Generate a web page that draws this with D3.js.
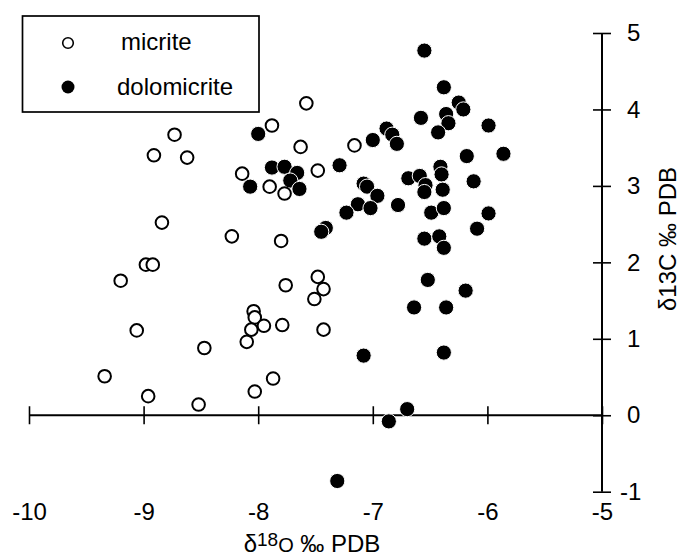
<!DOCTYPE html>
<html>
<head>
<meta charset="utf-8">
<script src="https://cdn.jsdelivr.net/npm/d3@7"></script>
<style>
    body { margin: 0; background: #fff; }
    svg { display: block; font-family: "Liberation Sans", Arial, sans-serif; }
</style>
</head>
<body>
<div id="chart"></div>
<script>
// Values (delta 18O and delta 13C, per mil PDB)
const micriteO = [-8.73, -8.91, -8.62, -7.88, -8.14, -7.90, -7.77, -8.84, -8.23, -7.80,
    -7.58, -7.63, -7.16, -7.48, -8.98, -8.92, -9.20, -9.06, -8.47, -9.34,
    -8.96, -8.52, -8.04, -8.03, -8.06, -7.95, -8.10, -7.87, -8.03, -7.79,
    -7.76, -7.48, -7.43, -7.51, -7.43];
const micriteC = [3.67, 3.40, 3.37, 3.79, 3.16, 2.99, 2.90, 2.52, 2.34, 2.28,
    4.08, 3.51, 3.53, 3.20, 1.97, 1.97, 1.76, 1.11, 0.88, 0.51,
    0.25, 0.14, 1.36, 1.28, 1.12, 1.17, 0.96, 0.48, 0.31, 1.18,
    1.70, 1.81, 1.65, 1.52, 1.12];

const dolomicriteO = [-8.00, -7.88, -8.07, -7.77, -7.66, -7.72, -7.64, -7.29, -7.08, -7.05,
    -6.96, -7.13, -7.23, -7.02, -6.78, -7.41, -7.45, -7.00, -6.88, -6.83,
    -6.79, -6.55, -6.38, -6.25, -6.21, -6.58, -6.36, -6.34, -6.43, -5.99,
    -5.86, -6.18, -6.41, -6.40, -6.69, -6.59, -6.54, -6.55, -6.39, -6.12,
    -5.99, -6.09, -6.55, -6.42, -6.38, -6.49, -6.38, -6.52, -6.19, -6.64,
    -6.36, -7.08, -6.38, -6.70, -6.86, -7.31];
const dolomicriteC = [3.68, 3.24, 2.99, 3.25, 3.17, 3.07, 2.96, 3.27, 3.03, 2.99,
    2.87, 2.76, 2.65, 2.71, 2.75, 2.45, 2.40, 3.60, 3.75, 3.67,
    3.55, 4.77, 4.29, 4.09, 4.00, 3.89, 3.94, 3.82, 3.70, 3.79,
    3.42, 3.39, 3.25, 3.15, 3.10, 3.13, 3.01, 2.92, 2.95, 3.06,
    2.64, 2.44, 2.31, 2.34, 2.19, 2.65, 2.71, 1.77, 1.63, 1.41,
    1.41, 0.78, 0.82, 0.08, -0.08, -0.86];

const xTicks = [-10, -9, -8, -7, -6, -5];
const yTicks = [-1, 0, 1, 2, 3, 4, 5];

const width = 681;
const height = 558;

const svg = d3.select("#chart").append("svg")
    .attr("width", width)
    .attr("height", height);

const x = d3.scaleLinear().domain([-10, -5]).range([29, 602]);
const y = d3.scaleLinear().domain([-1, 5]).range([491.7, 33]);

const x0 = x(-5);   // y axis sits at the right end
const y0 = y(0);    // x axis sits at zero

// x axis, ticks crossing the line
const xAxis = svg.append("g")
    .attr("transform", `translate(0,${y0 - 9})`)
    .call(d3.axisBottom(x).tickValues(xTicks).tickSize(18).tickPadding(79)
        .tickFormat(d => String(d)));
xAxis.select(".domain").remove();
xAxis.selectAll("line").attr("stroke", "#000").attr("stroke-width", 1.6);
xAxis.selectAll("text").attr("fill", "#000").style("font-size", "24px");

svg.append("line")
    .attr("x1", x(-10)).attr("x2", x0)
    .attr("y1", y0).attr("y2", y0)
    .attr("stroke", "#000").attr("stroke-width", 2);

// y axis
const yAxis = svg.append("g")
    .attr("transform", `translate(${x0 - 9},0)`)
    .call(d3.axisRight(y).tickValues(yTicks).tickSize(18).tickPadding(9)
        .tickFormat(d => String(d)));
yAxis.select(".domain").remove();
yAxis.selectAll("line").attr("stroke", "#000").attr("stroke-width", 1.6);
yAxis.selectAll("text")
    .attr("fill", "#000")
    .attr("dx", d => d < 0 ? 0 : 7)
    .style("font-size", "24px");

svg.append("line")
    .attr("x1", x0).attr("x2", x0)
    .attr("y1", y(5)).attr("y2", y(-1))
    .attr("stroke", "#000").attr("stroke-width", 2);

// axis titles
const xTitle = svg.append("text")
    .attr("x", 312).attr("y", 552)
    .attr("text-anchor", "middle")
    .style("font-size", "24px");
xTitle.append("tspan").text("δ");
xTitle.append("tspan").attr("dy", -6).style("font-size", "19px").text("18");
xTitle.append("tspan").attr("dy", 6).style("font-size", "20px").text("O");
xTitle.append("tspan").text(" ‰ PDB");

svg.append("text")
    .attr("transform", "translate(676,239) rotate(-90)")
    .attr("text-anchor", "middle")
    .style("font-size", "24px")
    .text("δ13C ‰ PDB");

// points: dolomicrite underneath, micrite on top
const dolo = d3.zip(dolomicriteO, dolomicriteC);
const micr = d3.zip(micriteO, micriteC);

svg.append("g").selectAll("circle")
    .data(dolo)
    .join("circle")
    .attr("cx", d => x(d[0]))
    .attr("cy", d => y(d[1]))
    .attr("r", 7.6)
    .attr("fill", "#000")
    .attr("stroke", "#fff")
    .attr("stroke-width", 1);

svg.append("g").selectAll("circle")
    .data(micr)
    .join("circle")
    .attr("cx", d => x(d[0]))
    .attr("cy", d => y(d[1]))
    .attr("r", 6.3)
    .attr("fill", "#fff")
    .attr("stroke", "#000")
    .attr("stroke-width", 2);

// legend
const legend = svg.append("g");
legend.append("rect")
    .attr("x", 22.5).attr("y", 16)
    .attr("width", 236.5).attr("height", 96)
    .attr("fill", "#fff")
    .attr("stroke", "#000")
    .attr("stroke-width", 1.7);
legend.append("circle")
    .attr("cx", 68).attr("cy", 43).attr("r", 5.3)
    .attr("fill", "#fff").attr("stroke", "#000").attr("stroke-width", 1.6);
legend.append("circle")
    .attr("cx", 68).attr("cy", 87).attr("r", 6.5)
    .attr("fill", "#000");
legend.append("text")
    .attr("x", 121).attr("y", 50)
    .style("font-size", "24px")
    .text("micrite");
legend.append("text")
    .attr("x", 117).attr("y", 95)
    .style("font-size", "24px")
    .text("dolomicrite");
</script>
</body>
</html>
